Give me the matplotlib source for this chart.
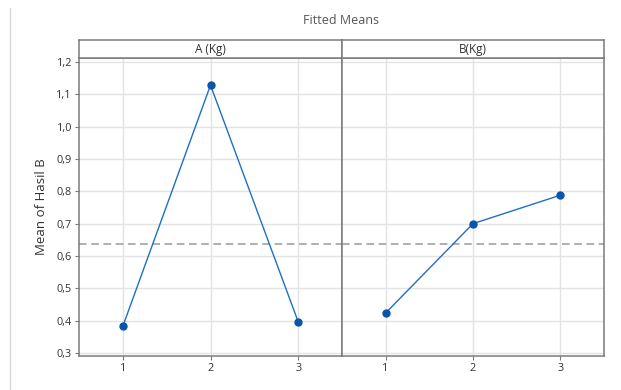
import matplotlib.pyplot as plt
from matplotlib.lines import Line2D

plt.rcParams['font.family'] = ['Open Sans', 'DejaVu Sans']

# data
levels = [1, 2, 3]
mean_a = [0.383, 1.128, 0.397]
mean_b = [0.424, 0.700, 0.788]
grand_mean = 0.637
panel_titles = ['A (Kg)', 'B(Kg)']
yticks = [0.3, 0.4, 0.5, 0.6, 0.7, 0.8, 0.9, 1.0, 1.1, 1.2]

W, H = 621, 390
fig = plt.figure(figsize=(W / 100, H / 100), dpi=100)

edge = '#7a7a7a'
line_col = '#1f6fc4'
mark_col = '#0a55a8'

def fx(px):
    return px / W

def fy(px):
    return 1 - px / H

top, bot, strip_top = 58, 356, 40
panels = [(79, 342), (342, 604)]
series = [mean_a, mean_b]

for i, ((x0, x1), vals, title) in enumerate(zip(panels, series, panel_titles)):
    ax = fig.add_axes([fx(x0), fy(bot), fx(x1 - x0), fy(top) - fy(bot)])
    ax.set_xlim(0.5, 3.5)
    ax.set_ylim(0.291, 1.212)
    ax.set_xticks(levels)
    ax.set_yticks(yticks)
    ax.grid(True, color='#e3e3e3', linewidth=1)
    ax.set_axisbelow(True)
    ax.axhline(grand_mean, color='#9a9a9a', linestyle=(0, (5, 3)), linewidth=1.1)
    ax.plot(levels, vals, color=line_col, linewidth=1.0, marker='o',
            markersize=5, markerfacecolor=mark_col, markeredgecolor=mark_col)
    for s in ax.spines.values():
        s.set_color(edge)
        s.set_linewidth(1.1)
    ax.tick_params(axis='both', labelsize=7.8, colors='#333333', length=3,
                   width=0.8, pad=2)
    ax.tick_params(axis='both', color=edge)
    if i == 0:
        ax.set_yticklabels([f'{v:.1f}'.replace('.', ',') for v in yticks])
        ax.set_ylabel('Mean of Hasil B', fontsize=9.5, color='#333333', labelpad=6)
    else:
        ax.tick_params(axis='y', left=False, labelleft=False)

    # strip header above the panel
    sx = fig.add_axes([fx(x0), fy(top), fx(x1 - x0), fy(strip_top) - fy(top)])
    sx.set_xticks([])
    sx.set_yticks([])
    for s in sx.spines.values():
        s.set_color(edge)
        s.set_linewidth(1.1)
    sx.text(0.5, 0.45, title, ha='center', va='center', fontsize=8.5,
            color='#333333', transform=sx.transAxes)

fig.text(fx(341), fy(20), 'Fitted Means', ha='center', va='center',
         fontsize=9, color='#555555')

# thin frame line on the left edge
fig.add_artist(Line2D([fx(10), fx(10)], [0, fy(8)], color='#d9d9d9',
                      linewidth=1, transform=fig.transFigure))

fig.savefig('out.png', dpi=100)
